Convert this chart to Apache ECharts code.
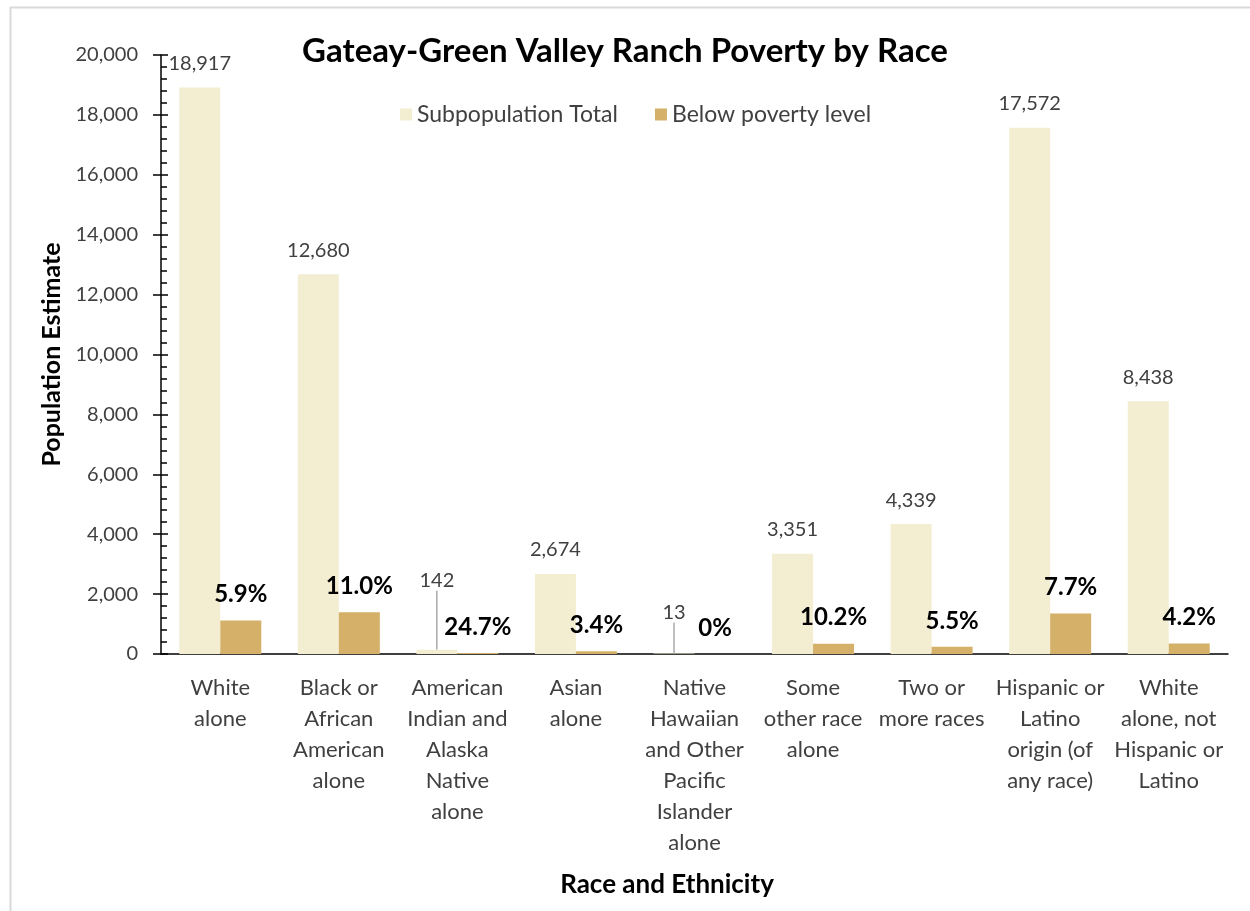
<!DOCTYPE html>
<html>
<head>
<meta charset="utf-8">
<title>Gateay-Green Valley Ranch Poverty by Race</title>
<script src="https://cdn.jsdelivr.net/npm/echarts@6/dist/echarts.min.js"></script>
<style>
  html, body { margin: 0; padding: 0; background: #fff; }
  #chart { width: 1250px; height: 911px; }
</style>
</head>
<body>
<div id="chart"></div>
<script>
// Race / ethnicity groups (line breaks as shown under the axis)
const categories = [
  'White\nalone',
  'Black or\nAfrican\nAmerican\nalone',
  'American\nIndian and\nAlaska\nNative\nalone',
  'Asian\nalone',
  'Native\nHawaiian\nand Other\nPacific\nIslander\nalone',
  'Some\nother race\nalone',
  'Two or\nmore races',
  'Hispanic or\nLatino\norigin (of\nany race)',
  'White\nalone, not\nHispanic or\nLatino'
];

// Total persons in each group
const subpopulationTotal = [18917, 12680, 142, 2674, 13, 3351, 4339, 17572, 8438];

// Persons below the poverty level in each group
const belowPovertyLevel = [1116, 1395, 35, 91, 0, 342, 239, 1353, 354];

// Poverty rate printed over each poverty bar (percent)
const povertyRateLabels = ['5.9%', '11.0%', '24.7%', '3.4%', '0%', '10.2%', '5.5%', '7.7%', '4.2%'];

// Y axis range
const yMin = 0, yMax = 20000, yStep = 2000;

// Small totals whose labels are lifted above the bar with a leader line
const liftedLabelShift = { 2: -45, 4: -17 };

const FONT = 'Lato, "Open Sans", "Noto Sans", sans-serif';
const TEXT_GREY = '#404040';

const chart = echarts.init(document.getElementById('chart'), null, { renderer: 'canvas' });

const totalData = subpopulationTotal.map((v, i) =>
  liftedLabelShift[i] !== undefined
    ? { value: v, labelLine: { show: true, lineStyle: { color: '#7f7f7f', width: 1 } } }
    : v
);

chart.setOption({
  backgroundColor: '#ffffff',
  animation: false,
  textStyle: { fontFamily: FONT },
  graphic: [{
    type: 'rect',
    left: 8, top: 5,
    shape: { width: 1260, height: 920 },
    style: { fill: 'none', stroke: '#d9d9d9', lineWidth: 2 },
    silent: true
  }],
  title: {
    text: 'Gateay-Green Valley Ranch Poverty by Race',
    left: 'center',
    top: 30,
    textStyle: { fontFamily: FONT, fontSize: 33, fontWeight: 'bold', color: '#000' }
  },
  legend: {
    top: 98,
    left: 395,
    itemWidth: 12,
    itemHeight: 12,
    itemGap: 37,
    icon: 'rect',
    textStyle: { fontFamily: FONT, fontSize: 23, color: TEXT_GREY },
    data: ['Subpopulation Total', 'Below poverty level']
  },
  grid: { left: 161, right: 22, top: 55, bottom: 257, containLabel: false },
  xAxis: {
    type: 'category',
    data: categories,
    name: 'Race and Ethnicity',
    nameLocation: 'middle',
    nameGap: 218,
    nameTextStyle: { fontFamily: FONT, fontSize: 26, fontWeight: 'bold', color: '#000', padding: [0, 55, 0, 0] },
    axisLine: { show: true, lineStyle: { color: '#000', width: 1.5 } },
    axisTick: { show: false },
    axisLabel: {
      interval: 0,
      margin: 18,
      fontFamily: FONT,
      fontSize: 22,
      lineHeight: 31,
      color: TEXT_GREY,
      align: 'center'
    },
    splitLine: { show: false }
  },
  yAxis: [{
    type: 'value',
    position: 'left',
    min: yMin, max: yMax, interval: yStep,
    name: 'Population Estimate',
    nameLocation: 'middle',
    nameGap: 93,
    nameTextStyle: { fontFamily: FONT, fontSize: 25, fontWeight: 'bold', color: '#000' },
    axisLine: { show: true, lineStyle: { color: '#000', width: 1.5 } },
    axisTick: { show: true, inside: false, length: 8, lineStyle: { color: '#000', width: 1.5 } },
    axisLabel: {
      margin: 23,
      fontFamily: FONT,
      fontSize: 20,
      color: TEXT_GREY,
      formatter: v => v.toLocaleString('en-US')
    },
    splitLine: { show: false }
  }, {
    // inner half of the major ticks plus the minor ticks
    type: 'value',
    position: 'left',
    min: yMin, max: yMax, interval: yStep,
    axisLine: { show: false },
    axisTick: { show: true, inside: true, length: 7, lineStyle: { color: '#000', width: 1.5 } },
    minorTick: { show: true, splitNumber: 5, length: 6, lineStyle: { color: '#000', width: 1.5 } },
    axisLabel: { show: false },
    splitLine: { show: false },
    minorSplitLine: { show: false }
  }],
  series: [{
    name: 'Subpopulation Total',
    type: 'bar',
    yAxisIndex: 0,
    data: totalData,
    barWidth: 41,
    barGap: '0%',
    itemStyle: { color: '#F3EDD2' },
    label: {
      show: true,
      position: 'top',
      distance: 14,
      fontFamily: FONT,
      fontSize: 20,
      color: TEXT_GREY,
      formatter: p => Number(p.value).toLocaleString('en-US')
    },
    labelLayout: p => (liftedLabelShift[p.dataIndex] !== undefined ? { dy: liftedLabelShift[p.dataIndex] } : {})
  }, {
    name: 'Below poverty level',
    type: 'bar',
    yAxisIndex: 0,
    data: belowPovertyLevel,
    barWidth: 41,
    barGap: '0%',
    itemStyle: { color: '#D4B068' },
    label: {
      show: true,
      position: 'top',
      distance: 14,
      fontFamily: FONT,
      fontSize: 24,
      fontWeight: 'bold',
      color: '#000',
      formatter: p => povertyRateLabels[p.dataIndex]
    }
  }]
});
</script>
</body>
</html>
